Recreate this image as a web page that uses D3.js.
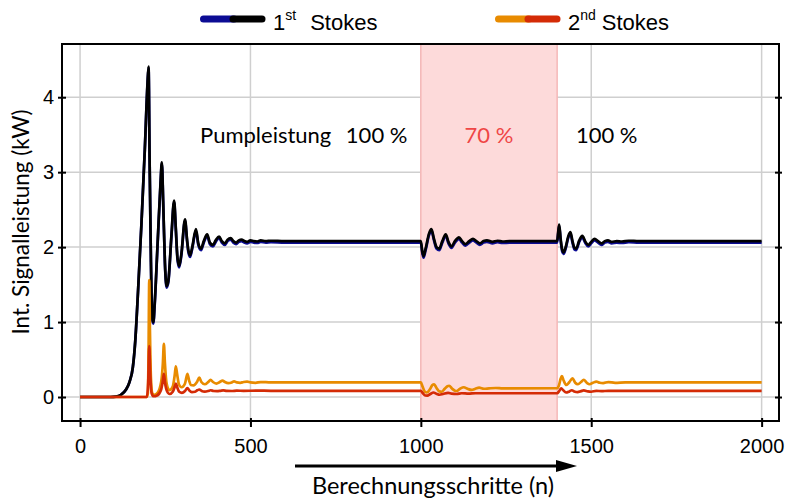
<!DOCTYPE html>
<html><head><meta charset="utf-8">
<script src="https://cdn.jsdelivr.net/npm/d3@7"></script>
<style>body{margin:0;background:#fff;} svg{display:block;}</style>
</head><body>
<svg id="c" width="787" height="501"></svg>
<script>
// ---------- data ----------
const xTicks = [0, 500, 1000, 1500, 2000];
const yTicks = [0, 1, 2, 3, 4];
const xDomain = [-53, 2051];
const yDomain = [-0.32, 4.71];
const shadeRange = [1000, 1400];
const pumpLabels = [
  {n: 352, text: "Pumpleistung", color: "#000", anchor: "start"},
  {n: 780, text: "100 %", color: "#000", anchor: "start"},
  {n: 1200, text: "70 %", color: "#ef4646", anchor: "middle"},
  {n: 1455, text: "100 %", color: "#000", anchor: "start"}
];
// 1st Stokes, model A (blue) [n, kW]
const stokes1Blue = [[0,0],[90,0],[105,0.005],[120,0.03],[135,0.1],[145,0.2],[155,0.4],[162,0.75],[170,1.4],[180,2.3],[190,3.3],[198,4.18],[201,4.39],[204,3.2],[208,1.8],[212,1.03],[215,0.98],[219,1.23],[228,2.08],[236,2.83],[240,3.11],[244,2.58],[249,1.78],[254,1.46],[259,1.53],[268,2.13],[276,2.6],[281,2.23],[286,1.83],[291,1.73],[297,1.88],[308,2.35],[314,2.08],[318,1.93],[323,1.87],[330,2.0],[340,2.22],[347,2.03],[355,1.96],[363,2.06],[373,2.15],[381,2.04],[390,2.01],[398,2.07],[408,2.12],[416,2.06],[425,2.03],[433,2.08],[442,2.1],[450,2.06],[458,2.04],[466,2.07],[474,2.08],[482,2.06],[490,2.05],[500,2.07],[510,2.06],[520,2.055],[530,2.07],[545,2.06],[560,2.065],[600,2.06],[1000,2.06],[1004,1.93],[1008,1.86],[1014,1.96],[1024,2.16],[1031,2.22],[1038,2.1],[1046,1.98],[1054,1.96],[1063,2.06],[1073,2.15],[1081,2.05],[1090,1.99],[1100,2.06],[1112,2.11],[1121,2.06],[1131,2.02],[1142,2.06],[1153,2.09],[1163,2.06],[1173,2.03],[1184,2.06],[1194,2.07],[1210,2.05],[1225,2.065],[1240,2.055],[1260,2.06],[1400,2.06],[1403,2.18],[1406,2.28],[1410,2.1],[1415,1.94],[1419,1.91],[1425,1.98],[1433,2.13],[1439,2.18],[1445,2.06],[1451,1.97],[1456,1.96],[1464,2.06],[1474,2.13],[1482,2.06],[1491,2.01],[1500,2.05],[1510,2.09],[1520,2.06],[1530,2.03],[1540,2.06],[1549,2.07],[1560,2.05],[1575,2.06],[1590,2.055],[1610,2.065],[1640,2.06],[2000,2.06]];
// 1st Stokes, model B (black)
const stokes1Black = [[0,0],[90,0],[105,0.005],[120,0.03],[135,0.1],[145,0.2],[155,0.4],[162,0.75],[170,1.4],[180,2.3],[190,3.3],[198,4.2],[201,4.41],[204,3.2],[208,1.8],[212,1.05],[215,1.0],[219,1.25],[228,2.1],[236,2.85],[240,3.13],[244,2.6],[249,1.8],[254,1.48],[259,1.55],[268,2.15],[276,2.62],[281,2.25],[286,1.85],[291,1.75],[297,1.9],[308,2.37],[314,2.1],[318,1.95],[323,1.89],[330,2.02],[340,2.24],[347,2.05],[355,1.98],[363,2.08],[373,2.17],[381,2.06],[390,2.03],[398,2.09],[408,2.14],[416,2.08],[425,2.05],[433,2.1],[442,2.12],[450,2.08],[458,2.06],[466,2.09],[474,2.1],[482,2.08],[490,2.07],[500,2.09],[510,2.08],[520,2.075],[530,2.09],[545,2.08],[560,2.085],[600,2.08],[1000,2.08],[1004,1.95],[1008,1.88],[1014,1.98],[1024,2.18],[1031,2.24],[1038,2.12],[1046,2.0],[1054,1.98],[1063,2.08],[1073,2.17],[1081,2.07],[1090,2.01],[1100,2.08],[1112,2.13],[1121,2.08],[1131,2.04],[1142,2.08],[1153,2.11],[1163,2.08],[1173,2.05],[1184,2.08],[1194,2.09],[1210,2.07],[1225,2.085],[1240,2.075],[1260,2.08],[1400,2.08],[1403,2.2],[1406,2.3],[1410,2.12],[1415,1.96],[1419,1.93],[1425,2.0],[1433,2.15],[1439,2.2],[1445,2.08],[1451,1.99],[1456,1.98],[1464,2.08],[1474,2.15],[1482,2.08],[1491,2.03],[1500,2.07],[1510,2.11],[1520,2.08],[1530,2.05],[1540,2.08],[1549,2.09],[1560,2.07],[1575,2.08],[1590,2.075],[1610,2.085],[1640,2.08],[2000,2.08]];
// 2nd Stokes, model A (orange)
const stokes2Orange = [[0,0],[195,0],[199,0.05],[201,0.6],[203,1.56],[205,0.9],[208,0.25],[212,0.05],[218,0.03],[228,0.06],[238,0.2],[243,0.45],[246,0.71],[249,0.45],[254,0.18],[262,0.09],[272,0.14],[278,0.3],[281,0.41],[285,0.3],[290,0.17],[298,0.13],[308,0.18],[315,0.31],[320,0.22],[325,0.16],[333,0.155],[343,0.2],[350,0.26],[356,0.2],[366,0.17],[376,0.2],[383,0.23],[390,0.2],[400,0.18],[410,0.2],[418,0.22],[425,0.2],[435,0.185],[445,0.195],[452,0.21],[460,0.195],[470,0.19],[480,0.2],[490,0.205],[500,0.195],[515,0.19],[530,0.2],[560,0.195],[1000,0.195],[1005,0.14],[1012,0.07],[1018,0.06],[1026,0.1],[1034,0.16],[1039,0.17],[1046,0.12],[1054,0.075],[1061,0.07],[1070,0.11],[1078,0.145],[1083,0.15],[1092,0.11],[1100,0.085],[1105,0.08],[1115,0.11],[1126,0.13],[1137,0.11],[1149,0.095],[1160,0.11],[1171,0.125],[1185,0.11],[1200,0.115],[1220,0.12],[1240,0.115],[1400,0.118],[1405,0.15],[1410,0.24],[1414,0.28],[1419,0.22],[1427,0.16],[1436,0.2],[1445,0.25],[1453,0.19],[1461,0.17],[1470,0.2],[1478,0.23],[1487,0.19],[1495,0.17],[1505,0.19],[1515,0.205],[1525,0.19],[1535,0.185],[1550,0.2],[1570,0.19],[1600,0.195],[2000,0.195]];
// 2nd Stokes, model B (red)
const stokes2Red = [[0,0],[196,0],[200,0.2],[203,0.68],[206,0.3],[210,0.05],[216,0.01],[226,0.02],[238,0.1],[243,0.22],[246,0.31],[249,0.2],[255,0.08],[263,0.04],[272,0.07],[278,0.14],[281,0.18],[285,0.13],[291,0.07],[299,0.055],[308,0.08],[315,0.12],[321,0.085],[328,0.065],[337,0.07],[344,0.09],[350,0.1],[357,0.08],[366,0.072],[376,0.08],[383,0.09],[392,0.08],[402,0.078],[412,0.083],[420,0.088],[430,0.082],[445,0.08],[460,0.085],[480,0.082],[520,0.085],[560,0.083],[1000,0.083],[1006,0.05],[1013,0.02],[1019,0.018],[1028,0.04],[1037,0.06],[1045,0.045],[1055,0.03],[1065,0.04],[1080,0.055],[1090,0.045],[1105,0.04],[1120,0.05],[1140,0.045],[1160,0.05],[1200,0.05],[1400,0.05],[1406,0.08],[1412,0.115],[1418,0.09],[1426,0.06],[1436,0.075],[1443,0.09],[1450,0.075],[1460,0.065],[1470,0.078],[1478,0.088],[1490,0.075],[1500,0.07],[1515,0.082],[1530,0.078],[1550,0.083],[2000,0.083]];
const seriesColors = {blue: "#0c0c94", black: "#000000", orange: "#e88b00", red: "#d42b06"};
const legendItems = [
  {colors: ["blue", "black"], num: "1", sup: "st", word: "Stokes"},
  {colors: ["orange", "red"], num: "2", sup: "nd", word: "Stokes"}
];

// ---------- layout ----------
const L = 62, R = 779, T = 44, B = 421;
const svg = d3.select("#c");
const x = d3.scaleLinear().domain(xDomain).range([L, R]);
const y = d3.scaleLinear().domain(yDomain).range([B, T]);

// grid
const grid = svg.append("g").attr("stroke", "#cfcfcf").attr("stroke-width", 1.5);
grid.selectAll("line.v").data(xTicks).join("line")
  .attr("x1", d => x(d)).attr("x2", d => x(d)).attr("y1", T).attr("y2", B);
grid.selectAll("line.h").data(yTicks).join("line")
  .attr("y1", d => y(d)).attr("y2", d => y(d)).attr("x1", L).attr("x2", R);

// shaded region
svg.append("rect")
  .attr("x", x(shadeRange[0])).attr("width", x(shadeRange[1]) - x(shadeRange[0]))
  .attr("y", T).attr("height", B - T)
  .attr("fill", "#fddada").attr("stroke", "none");
svg.selectAll("line.sh").data(shadeRange).join("line")
  .attr("x1", d => x(d)).attr("x2", d => x(d)).attr("y1", T).attr("y2", B)
  .attr("stroke", "#f6b8b8").attr("stroke-width", 1.5);

// annotations
svg.selectAll("text.ann").data(pumpLabels).join("text")
  .attr("x", d => x(d.n)).attr("y", 143)
  .attr("text-anchor", d => d.anchor)
  .attr("fill", d => d.color)
  .attr("font-family", "Lato, 'Open Sans', sans-serif").attr("font-size", 22)
  .text(d => d.text);

// lines
const line = d3.line().x(d => x(d[0])).y(d => y(d[1])).curve(d3.curveMonotoneX);
const lines = [
  {data: stokes1Blue, c: "blue"},
  {data: stokes1Black, c: "black"},
  {data: stokes2Orange, c: "orange"},
  {data: stokes2Red, c: "red"}
];
svg.append("g").selectAll("path").data(lines).join("path")
  .attr("d", d => line(d.data))
  .attr("fill", "none")
  .attr("stroke", d => seriesColors[d.c])
  .attr("stroke-width", 2.7)
  .attr("stroke-linejoin", "round");

// frame
svg.append("rect").attr("x", L).attr("y", T).attr("width", R - L).attr("height", B - T)
  .attr("fill", "none").attr("stroke", "#000").attr("stroke-width", 2);

// axes
const tickFont = "'Liberation Sans', Arial, sans-serif";
const xAxis = svg.append("g").attr("transform", `translate(0,${B})`)
  .call(d3.axisBottom(x).tickValues(xTicks).tickSize(6).tickPadding(12).tickFormat(d3.format("d")));
xAxis.select(".domain").remove();
xAxis.selectAll(".tick line").attr("y1", -3).attr("stroke-width", 2);
xAxis.selectAll("text").attr("font-family", tickFont).attr("font-size", 20).attr("fill", "#000");

const yAxis = svg.append("g").attr("transform", `translate(${L},0)`)
  .call(d3.axisLeft(y).tickValues(yTicks).tickSize(4).tickPadding(4).tickFormat(d3.format("d")));
yAxis.select(".domain").remove();
yAxis.selectAll(".tick line").attr("x1", 4).attr("stroke-width", 2);
yAxis.selectAll("text").attr("font-family", tickFont).attr("font-size", 20).attr("fill", "#000");

const yAxisR = svg.append("g").attr("transform", `translate(${R},0)`)
  .call(d3.axisRight(y).tickValues(yTicks).tickSize(3).tickFormat(""));
yAxisR.select(".domain").remove();
yAxisR.selectAll(".tick line").attr("x1", -4).attr("stroke-width", 2);

// axis titles
const titleFont = "Lato, 'Open Sans', sans-serif";
svg.append("text")
  .attr("transform", "translate(29,222) rotate(-90)")
  .attr("text-anchor", "middle")
  .attr("font-family", titleFont).attr("font-size", 22.5).attr("fill", "#000")
  .text("Int. Signalleistung (kW)");
svg.append("text")
  .attr("x", 433).attr("y", 494)
  .attr("text-anchor", "middle")
  .attr("font-family", titleFont).attr("font-size", 23.5).attr("fill", "#000")
  .text("Berechnungsschritte (n)");
// arrow
svg.append("line").attr("x1", 295).attr("x2", 558).attr("y1", 466).attr("y2", 466)
  .attr("stroke", "#000").attr("stroke-width", 3);
svg.append("path").attr("d", "M556,460 L577,466 L556,472 Z").attr("fill", "#000");

// legend
const legX = [200, 495];
const lg = svg.append("g").selectAll("g").data(legendItems).join("g")
  .attr("transform", (d, i) => `translate(${legX[i]},19)`);
lg.append("line").attr("x1", 3.5).attr("x2", 34).attr("y1", 0).attr("y2", 0)
  .attr("stroke", d => seriesColors[d.colors[0]]).attr("stroke-width", 7).attr("stroke-linecap", "round");
lg.append("line").attr("x1", 33).attr("x2", 62).attr("y1", 0).attr("y2", 0)
  .attr("stroke", d => seriesColors[d.colors[1]]).attr("stroke-width", 7).attr("stroke-linecap", "round");
const lt = lg.append("text").attr("x", 73).attr("y", 10.5)
  .attr("font-family", tickFont).attr("font-size", 22).attr("fill", "#000");
lt.append("tspan").text(d => d.num);
lt.append("tspan").attr("dy", -10).attr("font-size", 14).text(d => d.sup);
lt.append("tspan").attr("dy", 10).attr("dx", (d, i) => i === 0 ? 14 : 6).text(d => d.word);
</script>
</body></html>
